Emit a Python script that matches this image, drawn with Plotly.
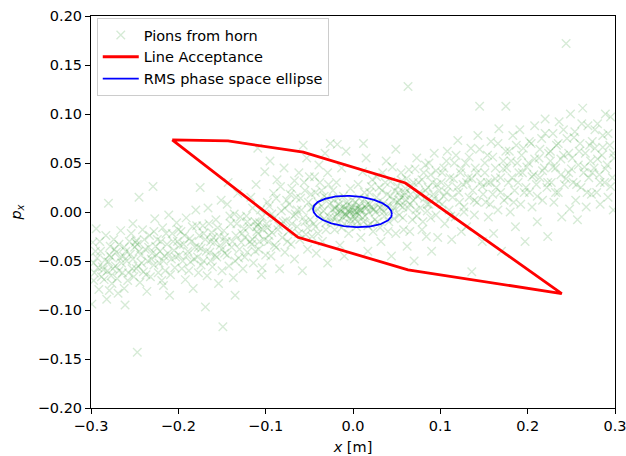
import numpy as np
import plotly.graph_objects as go

# ---- data ----
pion_points = [
    (-0.298,-0.031),(-0.296,-0.062),(-0.293,-0.047),(-0.291,-0.079),(-0.289,-0.040),(-0.287,-0.056),
    (-0.285,-0.069),(-0.283,-0.024),(-0.282,-0.089),(-0.280,-0.051),(-0.278,-0.035),(-0.277,-0.065),
    (-0.276,-0.073),(-0.299,-0.094),(-0.294,-0.017),(-0.286,-0.059),(-0.279,-0.044),(-0.297,-0.052),
    (-0.274,-0.028),(-0.272,-0.055),(-0.271,-0.041),(-0.269,-0.083),(-0.267,-0.047),(-0.266,-0.019),
    (-0.264,-0.062),(-0.262,-0.036),(-0.261,-0.095),(-0.259,-0.050),(-0.258,-0.070),(-0.256,-0.030),
    (-0.255,-0.043),(-0.253,-0.058),(-0.252,-0.012),(-0.251,-0.066),(-0.263,-0.045),(-0.268,-0.060),
    (-0.249,-0.031),(-0.248,-0.029),(-0.247,-0.033),(-0.246,-0.055),(-0.244,-0.072),(-0.243,-0.044),
    (-0.241,-0.018),(-0.240,-0.061),(-0.238,-0.038),(-0.236,-0.081),(-0.235,-0.050),(-0.233,-0.024),
    (-0.232,-0.066),(-0.230,-0.042),(-0.229,0.026),(-0.228,-0.054),(-0.227,-0.007),(-0.226,-0.035),
    (-0.245,0.015),(-0.247,-0.143),(-0.280,0.009),
    (-0.224,-0.028),(-0.222,-0.052),(-0.221,-0.040),(-0.219,-0.070),(-0.218,-0.016),(-0.216,-0.045),
    (-0.215,-0.060),(-0.213,-0.033),(-0.211,-0.003),(-0.210,-0.085),(-0.208,-0.048),(-0.207,-0.022),
    (-0.205,-0.039),(-0.204,-0.057),(-0.202,-0.011),(-0.201,-0.030),(-0.217,-0.075),
    (-0.199,-0.044),(-0.197,-0.020),(-0.196,-0.058),(-0.194,-0.033),(-0.192,-0.069),(-0.191,-0.006),
    (-0.189,-0.040),(-0.187,-0.027),(-0.186,-0.051),(-0.184,-0.015),(-0.183,-0.078),(-0.181,-0.036),
    (-0.180,0.002),(-0.178,-0.046),(-0.177,-0.062),(-0.176,-0.024),(-0.175,0.025),(-0.169,-0.097),
    (-0.174,-0.037),(-0.172,-0.014),(-0.171,-0.050),(-0.169,-0.028),(-0.167,-0.065),(-0.166,0.004),
    (-0.164,-0.041),(-0.162,-0.021),(-0.161,-0.056),(-0.159,-0.031),(-0.157,-0.008),(-0.156,-0.046),
    (-0.154,-0.073),(-0.153,-0.025),(-0.151,0.012),(-0.150,-0.038),(-0.149,-0.117),(-0.163,-0.030),
    (-0.148,-0.019),(-0.147,-0.042),(-0.145,-0.030),(-0.144,0.008),(-0.142,-0.055),(-0.140,-0.012),
    (-0.139,-0.036),(-0.137,-0.067),(-0.135,-0.085),(-0.134,-0.024),(-0.132,0.019),(-0.131,-0.047),
    (-0.129,-0.005),(-0.128,-0.031),(-0.126,-0.058),(-0.125,-0.017),(-0.136,-0.002),(-0.143,0.030),
    (-0.124,-0.026),(-0.122,-0.004),(-0.121,-0.041),(-0.119,-0.015),(-0.117,0.015),(-0.116,-0.033),
    (-0.114,-0.052),(-0.112,-0.010),(-0.111,0.028),(-0.109,-0.022),(-0.108,-0.038),(-0.106,0.002),
    (-0.105,-0.064),(-0.104,-0.057),(-0.103,-0.018),(-0.101,0.041),(-0.109,0.065),(-0.115,-0.028),
    (-0.109,-0.013),(-0.107,-0.011),(-0.110,-0.015),
    (-0.099,-0.012),(-0.098,-0.016),(-0.097,-0.030),(-0.096,0.006),(-0.094,-0.045),(-0.093,-0.021),
    (-0.091,0.019),(-0.090,-0.006),(-0.088,-0.036),(-0.087,0.033),(-0.085,-0.014),(-0.084,-0.058),
    (-0.082,0.001),(-0.081,-0.026),(-0.079,0.045),(-0.078,-0.041),(-0.077,-0.009),(-0.076,0.012),
    (-0.095,0.052),
    (-0.074,-0.020),(-0.073,0.008),(-0.071,-0.033),(-0.070,0.024),(-0.068,-0.004),(-0.067,-0.048),
    (-0.065,0.015),(-0.064,-0.015),(-0.062,0.040),(-0.061,-0.028),(-0.059,0.002),(-0.058,-0.060),
    (-0.056,0.030),(-0.055,-0.010),(-0.053,0.055),(-0.052,-0.038),(-0.051,0.010),(-0.066,-0.002),
    (-0.057,0.068),(-0.054,-0.023),
    (-0.049,-0.008),(-0.048,0.018),(-0.047,-0.025),(-0.046,0.005),(-0.044,0.036),(-0.043,-0.015),
    (-0.042,-0.042),(-0.040,0.010),(-0.039,0.048),(-0.038,-0.003),(-0.036,0.022),(-0.035,-0.030),
    (-0.034,0.001),(-0.032,0.060),(-0.031,-0.011),(-0.030,0.014),(-0.029,-0.052),(-0.028,0.028),
    (-0.027,-0.005),(-0.026,0.070),(-0.041,0.003),(-0.033,-0.007),
    (-0.024,0.002),(-0.023,-0.006),(-0.022,0.012),(-0.021,-0.018),(-0.020,0.004),(-0.019,0.030),
    (-0.018,-0.002),(-0.017,-0.010),(-0.016,0.008),(-0.015,-0.034),(-0.014,0.001),(-0.013,0.045),
    (-0.012,-0.005),(-0.011,0.016),(-0.010,-0.012),(-0.009,0.003),(-0.008,0.062),(-0.007,-0.003),
    (-0.006,0.007),(-0.005,-0.022),(-0.004,0.000),(-0.003,0.024),(-0.002,-0.008),(-0.001,0.005),
    (-0.018,0.069),(-0.010,-0.045),(-0.015,0.003),(-0.008,-0.004),(-0.003,0.002),
    (0.001,0.001),(0.002,-0.007),(0.003,0.010),(0.004,-0.015),(0.005,0.004),(0.006,0.028),
    (0.007,-0.003),(0.008,0.006),(0.009,-0.026),(0.010,0.002),(0.011,0.041),(0.012,-0.010),
    (0.013,0.013),(0.014,-0.004),(0.015,0.055),(0.016,0.008),(0.017,-0.040),(0.018,0.000),
    (0.019,0.020),(0.020,-0.012),(0.021,0.005),(0.022,0.033),(0.023,-0.020),(0.024,0.003),
    (0.012,0.070),(0.004,0.000),(0.008,0.002),(0.014,0.006),(0.002,-0.002),
    (0.026,0.000),(0.027,0.015),(0.028,-0.010),(0.030,0.025),(0.031,0.004),(0.032,-0.030),
    (0.034,0.040),(0.035,0.009),(0.036,-0.004),(0.038,0.052),(0.039,0.018),(0.040,-0.020),
    (0.042,0.006),(0.043,0.031),(0.044,-0.045),(0.046,0.012),(0.047,-0.007),(0.048,0.022),
    (0.049,0.064),(0.033,0.003),(0.045,0.001),
    (0.051,0.010),(0.052,0.020),(0.053,-0.003),(0.055,0.015),(0.056,0.032),(0.057,0.005),
    (0.058,-0.018),(0.060,0.024),(0.061,0.012),(0.062,-0.035),(0.064,0.043),(0.065,0.008),
    (0.066,0.018),(0.068,-0.008),(0.069,0.030),(0.070,-0.050),(0.072,0.002),(0.073,0.055),
    (0.074,0.016),(0.063,0.128),(0.054,0.007),(0.059,0.017),
    (0.076,0.020),(0.077,0.004),(0.079,0.033),(0.080,-0.010),(0.082,0.014),(0.083,0.048),
    (0.084,-0.025),(0.086,0.025),(0.087,0.008),(0.089,0.038),(0.090,-0.040),(0.092,0.018),
    (0.093,0.060),(0.095,-0.003),(0.096,0.028),(0.098,0.011),(0.085,0.001),
    (0.101,0.030),(0.102,0.008),(0.104,0.045),(0.105,-0.012),(0.107,0.020),(0.108,0.062),
    (0.110,0.002),(0.111,0.035),(0.113,-0.028),(0.114,0.015),(0.116,0.050),(0.117,-0.005),
    (0.119,0.025),(0.120,0.073),(0.122,0.010),(0.123,0.040),(0.124,-0.020),
    (0.126,0.028),(0.127,0.005),(0.129,0.050),(0.130,-0.015),(0.132,0.035),(0.133,0.015),
    (0.135,0.065),(0.136,-0.061),(0.137,0.022),(0.139,-0.003),(0.140,0.045),(0.142,0.010),
    (0.143,0.078),(0.145,0.108),(0.146,0.030),(0.148,-0.030),(0.149,0.018),
    (0.151,0.040),(0.152,0.010),(0.154,0.058),(0.155,-0.005),(0.157,0.030),(0.158,0.072),
    (0.160,0.018),(0.161,-0.022),(0.163,0.045),(0.164,0.025),(0.166,0.002),(0.167,0.085),
    (0.169,0.035),(0.170,-0.040),(0.172,0.052),(0.173,0.012),(0.175,0.108),
    (0.176,0.045),(0.177,0.015),(0.179,0.062),(0.180,0.000),(0.182,0.035),(0.183,0.078),
    (0.185,0.022),(0.186,-0.015),(0.188,0.050),(0.189,0.030),(0.191,0.084),(0.192,0.008),
    (0.194,0.040),(0.195,0.065),(0.197,-0.030),(0.198,0.025),
    (0.201,0.050),(0.202,0.020),(0.204,0.070),(0.205,0.005),(0.207,0.038),(0.208,0.088),
    (0.210,0.028),(0.211,-0.010),(0.213,0.055),(0.214,0.035),(0.216,0.075),(0.217,0.012),
    (0.219,0.045),(0.220,0.095),(0.222,0.025),(0.223,-0.025),(0.224,0.060),
    (0.226,0.052),(0.227,0.030),(0.229,0.080),(0.230,0.010),(0.232,0.045),(0.233,0.068),
    (0.235,0.020),(0.236,0.092),(0.238,0.038),(0.239,-0.005),(0.241,0.058),(0.242,0.028),
    (0.244,0.172),(0.245,0.075),(0.247,0.040),(0.248,0.003),(0.249,0.100),
    (0.251,0.055),(0.252,0.030),(0.254,0.082),(0.255,0.012),(0.257,-0.008),(0.258,0.048),
    (0.260,0.070),(0.261,0.025),(0.263,0.106),(0.264,0.040),(0.266,0.060),(0.267,0.005),
    (0.269,0.088),(0.270,0.035),(0.272,0.052),(0.273,0.018),(0.274,0.072),
    (0.276,0.045),(0.277,0.065),(0.279,0.020),(0.280,0.090),(0.282,0.038),(0.283,0.008),
    (0.285,0.058),(0.286,0.078),(0.288,0.030),(0.289,0.100),(0.291,0.048),(0.292,0.015),
    (0.294,0.068),(0.295,0.097),(0.297,0.035),(0.298,0.002),(0.299,0.055),
    # second pass over the dense band
    (-0.297,-0.070),(-0.295,-0.040),(-0.292,-0.057),(-0.290,-0.030),(-0.288,-0.066),(-0.284,-0.049),
    (-0.281,-0.060),(-0.279,-0.080),(-0.277,-0.046),(-0.275,-0.058),(-0.273,-0.038),(-0.270,-0.068),
    (-0.268,-0.033),(-0.265,-0.052),(-0.262,-0.078),(-0.260,-0.040),(-0.257,-0.062),(-0.254,-0.022),
    (-0.252,-0.048),(-0.250,-0.036),(-0.248,-0.058),(-0.245,-0.040),(-0.242,-0.052),(-0.239,-0.028),
    (-0.237,-0.064),(-0.234,-0.036),(-0.231,-0.048),(-0.228,-0.020),(-0.225,-0.044),(-0.223,-0.062),
    (-0.220,-0.030),(-0.217,-0.050),(-0.214,-0.022),(-0.212,-0.042),(-0.209,-0.064),(-0.206,-0.030),
    (-0.203,-0.046),(-0.200,-0.018),(-0.198,-0.034),(-0.195,-0.050),(-0.193,-0.024),(-0.190,-0.044),
    (-0.188,-0.060),(-0.185,-0.030),(-0.182,-0.048),(-0.179,-0.014),(-0.177,-0.036),(-0.174,-0.054),
    (-0.171,-0.022),(-0.168,-0.040),(-0.165,-0.012),(-0.163,-0.050),(-0.160,-0.026),(-0.158,-0.044),
    (-0.155,-0.016),(-0.152,-0.034),(-0.150,-0.060),(-0.147,-0.026),(-0.144,-0.044),(-0.141,-0.004),
    (-0.138,-0.030),(-0.135,-0.050),(-0.133,-0.012),(-0.130,-0.038),(-0.127,-0.022),(-0.124,-0.046),
    (-0.121,-0.010),(-0.118,-0.030),(-0.115,0.004),(-0.112,-0.040),(-0.110,-0.020),(-0.107,-0.030),
    (-0.104,-0.005),(-0.102,-0.028),(-0.100,-0.044),
    (-0.098,0.010),(-0.096,-0.024),(-0.093,-0.002),(-0.090,-0.034),(-0.088,0.014),(-0.086,-0.018),
    (-0.083,0.026),(-0.080,-0.010),(-0.078,0.004),(-0.075,-0.030),(-0.072,0.018),(-0.070,-0.012),
    (-0.067,0.032),(-0.064,0.002),(-0.062,-0.022),(-0.060,0.014),(-0.057,-0.006),(-0.055,0.022),
    (-0.052,-0.016),(-0.050,0.036),(-0.048,0.004),(-0.045,-0.012),(-0.043,0.020),(-0.040,-0.022),
    (-0.038,0.030),(-0.036,0.006),(-0.033,0.016),(-0.031,-0.018),(-0.029,0.040),(-0.027,0.008),
    (-0.025,-0.010),(-0.023,0.022),(-0.021,0.004),(-0.019,-0.006),(-0.017,0.014),(-0.015,0.000),
    (-0.013,-0.016),(-0.011,0.006),(-0.009,-0.002),(-0.007,0.010),(-0.005,0.002),(-0.003,-0.012),
    (-0.001,0.012),(0.001,-0.004),(0.003,0.004),(0.005,-0.010),(0.007,0.014),(0.009,0.002),
    (0.011,-0.006),(0.013,0.020),(0.015,0.004),(0.017,-0.014),(0.019,0.008),(0.021,0.026),
    (0.023,0.002),(0.025,-0.008),(0.027,0.036),(0.029,0.010),(0.031,-0.016),(0.033,0.022),
    (0.035,0.000),(0.037,0.030),(0.039,0.006),(0.041,-0.010),(0.043,0.016),(0.045,0.046),
    (0.047,0.004),(0.049,-0.022),(0.051,0.026),(0.053,0.012),(0.055,0.040),(0.057,-0.006),
    (0.059,0.020),(0.061,0.034),(0.063,0.004),(0.065,-0.020),(0.067,0.026),(0.069,0.012),
    (0.071,0.044),(0.073,-0.004),(0.075,0.030),(0.077,0.018),(0.079,-0.018),(0.081,0.040),
    (0.083,0.022),(0.085,0.008),(0.087,0.050),(0.089,-0.006),(0.091,0.030),(0.093,0.014),
    (0.095,0.042),(0.097,-0.026),(0.099,0.022),
    (0.102,0.040),(0.104,0.016),(0.107,0.052),(0.109,0.026),(0.112,-0.004),(0.115,0.034),
    (0.118,0.058),(0.121,0.020),(0.124,0.044),(0.127,0.000),(0.130,0.030),(0.133,0.056),
    (0.136,0.034),(0.139,0.012),(0.142,0.040),(0.145,0.064),(0.148,0.026),(0.151,0.050),
    (0.154,0.030),(0.157,0.008),(0.160,0.056),(0.163,0.034),(0.166,0.070),(0.169,0.020),
    (0.172,0.044),(0.175,0.062),(0.178,0.030),(0.181,0.052),(0.184,0.010),(0.187,0.068),
    (0.190,0.040),(0.193,0.058),(0.196,0.020),(0.199,0.046),(0.202,0.072),(0.205,0.036),
    (0.208,0.054),(0.211,0.016),(0.214,0.064),(0.217,0.042),(0.220,0.080),(0.223,0.030),
    (0.226,0.062),(0.229,0.046),(0.232,0.020),(0.235,0.070),(0.238,0.054),(0.241,0.084),
    (0.244,0.034),(0.247,0.060),(0.250,0.044),(0.253,0.076),(0.256,0.028),(0.259,0.062),
    (0.262,0.090),(0.265,0.046),(0.268,0.020),(0.271,0.068),(0.274,0.040),(0.277,0.084),
    (0.280,0.054),(0.283,0.030),(0.286,0.066),(0.289,0.044),(0.292,0.080),(0.295,0.026),
    (0.298,0.060),
]
pion_x = [p[0] for p in pion_points]
pion_y = [p[1] for p in pion_points]

# Line acceptance polygon (x [m], p_x)
acc_x = [-0.207, -0.143, -0.057, 0.060, 0.239, 0.063, -0.063, -0.207]
acc_y = [0.0735, 0.0725, 0.061, 0.0296, -0.0832, -0.059, -0.0258, 0.0735]

# RMS ellipse parameters: centre, semi-axes, tilt (rad)
ell_cx, ell_cy = -0.0006, 0.0005
ell_a, ell_b = 0.0452, 0.0158
ell_tilt = -0.06

x_ticks = [-0.3, -0.2, -0.1, 0.0, 0.1, 0.2, 0.3]
y_ticks = [-0.20, -0.15, -0.10, -0.05, 0.00, 0.05, 0.10, 0.15, 0.20]

t = np.linspace(0, 2 * np.pi, 200)
ex = ell_cx + ell_a * np.cos(ell_tilt) * np.cos(t) - ell_b * np.sin(ell_tilt) * np.sin(t)
ey = ell_cy + ell_a * np.sin(ell_tilt) * np.cos(t) + ell_b * np.cos(ell_tilt) * np.sin(t)

font = "DejaVu Sans"
fs = 14.5

fig = go.Figure()
fig.add_trace(go.Scatter(
    x=pion_x, y=pion_y, mode="markers", name="Pions from horn",
    marker=dict(symbol="x-thin", size=8.5,
                line=dict(width=1.4, color="rgba(0,128,0,0.16)"),
                color="rgba(0,128,0,0.16)"),
))
fig.add_trace(go.Scatter(
    x=acc_x, y=acc_y, mode="lines", name="Line Acceptance",
    line=dict(color="#ff0000", width=2.8),
))
fig.add_trace(go.Scatter(
    x=ex, y=ey, mode="lines", name="RMS phase space ellipse",
    line=dict(color="#0000ff", width=1.8),
))

axis_common = dict(
    showgrid=False, zeroline=False, showline=True, linecolor="black", linewidth=1,
    mirror=True, ticks="outside", ticklen=5, tickwidth=1, tickcolor="black",
    tickfont=dict(family=font, size=fs, color="black"), automargin=False,
    ticklabeloverflow="allow",
)
fig.update_xaxes(range=[-0.3, 0.3], tickvals=x_ticks, tickformat=".1f",
                 title=dict(text="<i>x</i> [m]", font=dict(family=font, size=fs, color="black"), standoff=8),
                 **axis_common)
fig.update_yaxes(range=[-0.2, 0.2], tickvals=y_ticks, tickformat=".2f",
                 title=dict(text="<i>p</i><sub><i>x</i></sub>", font=dict(family=font, size=fs, color="black"), standoff=12),
                 **axis_common)

fig.update_layout(
    width=626, height=456,
    margin=dict(l=91, r=11, t=16, b=48),
    plot_bgcolor="white", paper_bgcolor="white",
    font=dict(family=font, size=fs, color="black"),
    showlegend=True,
    legend=dict(x=0.011, y=0.995, xanchor="left", yanchor="top",
                bgcolor="rgba(255,255,255,0.8)", bordercolor="#cccccc", borderwidth=1,
                font=dict(family=font, size=fs, color="black"),
                itemwidth=36, tracegroupgap=0),
)

fig.write_html("out.html")
